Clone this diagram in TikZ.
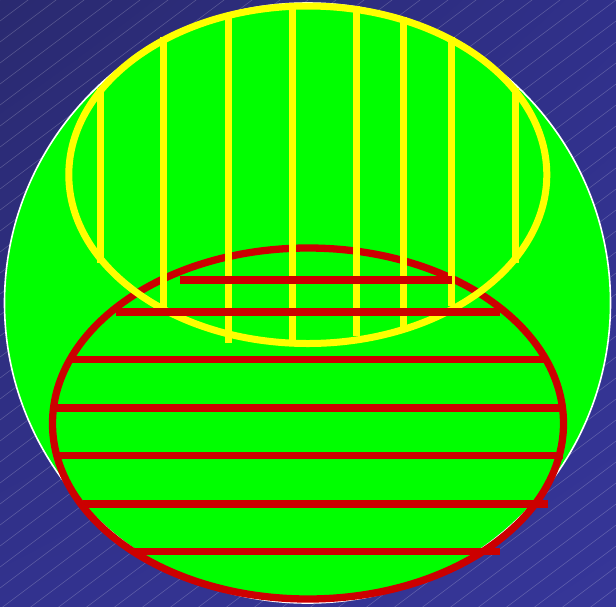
\documentclass[tikz,border=0pt]{standalone}
\usetikzlibrary{shadings}
\begin{document}
\begin{tikzpicture}[x=1pt,y=-1pt,
  yel/.style={draw=yelc, line width=7pt},
  redl/.style={draw=redc, line width=7.3pt},
  hatch/.style={white, opacity=0.2, line width=0.6pt}]
\definecolor{bgA}{RGB}{42,42,112}
\definecolor{bgB}{RGB}{48,48,138}
\definecolor{bgC}{RGB}{50,50,142}
\definecolor{bgD}{RGB}{54,54,152}
\definecolor{grn}{RGB}{0,255,0}
\definecolor{yelc}{RGB}{255,255,0}
\definecolor{redc}{RGB}{204,0,0}
\useasboundingbox (0,0) rectangle (616,606);
\shade[upper left=bgA, upper right=bgB, lower left=bgC, lower right=bgD] (0,0) rectangle (616,606);
\begin{scope}
\clip (0,0) rectangle (616,606);
\foreach \c in {0,21,...,1092} \draw[hatch] (0,\c) -- (616,\c-462);
\end{scope}
% green disc
\draw[white, line width=1.6pt, fill=grn] (307.5,303) ellipse [x radius=303pt, y radius=300pt];
% red ellipse
\draw[redl] (308,423.5) ellipse [x radius=255.5pt, y radius=175.5pt];
% yellow ellipse
\draw[yel] (307.8,174.75) ellipse [x radius=239pt, y radius=168.75pt];
% yellow vertical lines
\draw[yel] (100,88) -- (100,263);
\draw[yel] (163.5,37) -- (163.5,308);
\draw[yel] (228,13) -- (228,343);
\draw[yel] (292,3) -- (292,340);
\draw[yel] (356,6) -- (356,336);
\draw[yel] (403.5,17) -- (403.5,327);
\draw[yel] (451.5,37) -- (451.5,306);
\draw[yel] (515.5,88) -- (515.5,263);
% red horizontal lines
\draw[redl] (180,280) -- (452,280);
\draw[redl] (116,312) -- (500,312);
\draw[redl] (72,359.5) -- (546,359.5);
\draw[redl] (55,408) -- (560,408);
\draw[redl] (57,455.5) -- (563,455.5);
\draw[redl] (83,504) -- (548,504);
\draw[redl] (133,551.5) -- (500,551.5);
\end{tikzpicture}
\end{document}
